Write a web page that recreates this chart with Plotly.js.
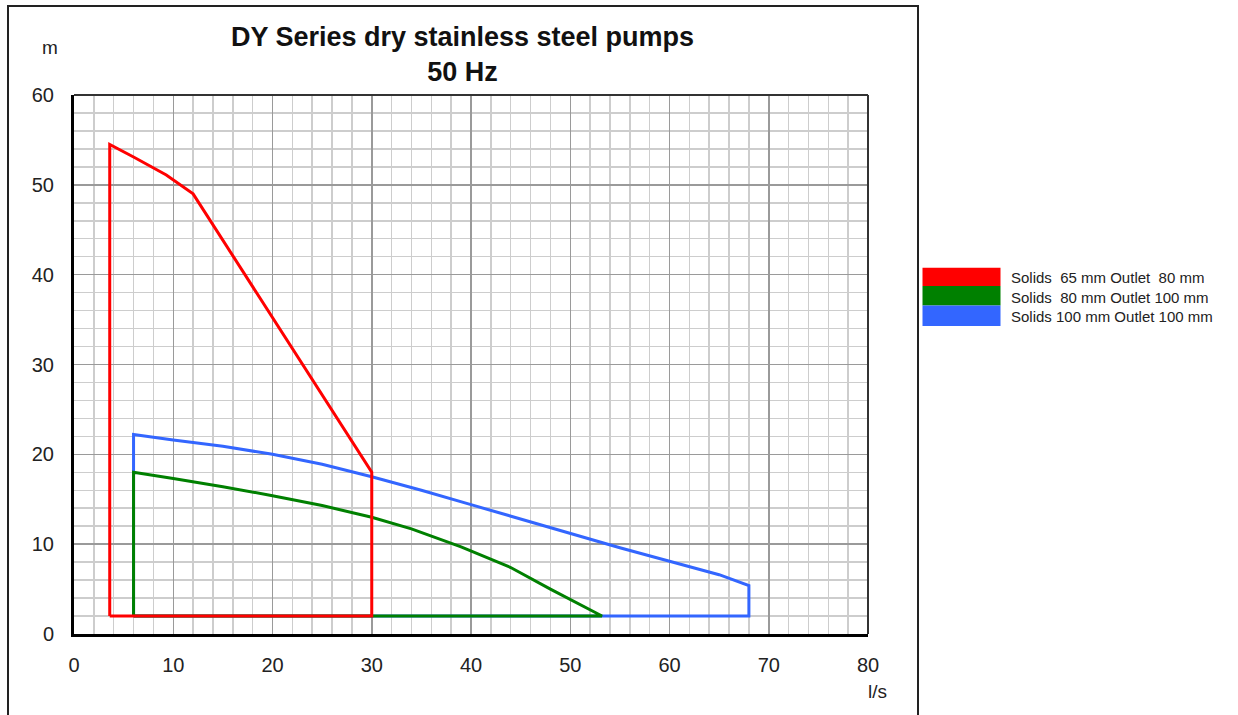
<!DOCTYPE html>
<html>
<head>
<meta charset="utf-8">
<script src="https://cdn.plot.ly/plotly-3.0.1.min.js"></script>
<style>
html,body{margin:0;padding:0;background:#fff;}
#chart{width:1238px;height:715px;}
</style>
</head>
<body>
<div id="chart"></div>
<script>
// ---- data ----
var seriesNames = ["Solids\u00a0\u00a065 mm Outlet\u00a0\u00a080 mm", "Solids\u00a0\u00a080 mm Outlet 100 mm", "Solids 100 mm Outlet 100 mm"];
var seriesColors = ["#ff0000", "#008000", "#3366ff"];

var redFlow = [3.6, 3.6, 6, 9.3, 12, 30, 30, 3.6];
var redHead = [2, 54.5, 53.1, 51.1, 49, 18, 2, 2];

var greenFlow = [6, 6, 10, 15, 20, 25, 30, 34, 39, 44, 48, 53.2, 6];
var greenHead = [2, 18, 17.3, 16.4, 15.4, 14.3, 13, 11.7, 9.7, 7.4, 5.0, 2, 2];

var blueFlow = [6, 6, 10, 15, 20, 25, 30, 35, 40, 45, 50, 55, 60, 65, 68, 68, 6];
var blueHead = [2, 22.2, 21.6, 20.9, 20, 18.9, 17.5, 16, 14.4, 12.8, 11.2, 9.6, 8.1, 6.6, 5.4, 2, 2];

var titleLines = ["DY Series dry stainless steel pumps", "50 Hz"];
var yUnit = "m";
var xUnit = "l/s";

// ---- layout helpers (pixel -> paper) ----
var L = 74, T = 95, W = 794, H = 539;
function px(x){ return (x - L) / W; }
function py(y){ return (T + H - y) / H; }

var FONT = "Liberation Sans, Arial, sans-serif";

var traces = [
  {x: blueFlow, y: blueHead, name: seriesNames[2], mode: "lines", line: {color: seriesColors[2], width: 3}},
  {x: greenFlow, y: greenHead, name: seriesNames[1], mode: "lines", line: {color: seriesColors[1], width: 3}},
  {x: redFlow, y: redHead, name: seriesNames[0], mode: "lines", line: {color: seriesColors[0], width: 3}}
];

var shapes = [
  // outer frame
  {type: "rect", xref: "paper", yref: "paper", x0: px(8), x1: px(918), y0: py(760), y1: py(6),
   line: {color: "#222", width: 2}, layer: "above"},
  // top and right plot borders
  {type: "line", xref: "paper", yref: "paper", x0: 0, x1: 1, y0: 1, y1: 1, line: {color: "#333", width: 2}},
  {type: "line", xref: "paper", yref: "paper", x0: 1, x1: 1, y0: 0, y1: 1, line: {color: "#333", width: 2}}
];
// legend swatches
var swTop = [267.7, 286, 305.5], swBot = [286, 305.5, 326];
for (var i = 0; i < 3; i++) {
  shapes.push({type: "rect", xref: "paper", yref: "paper", x0: px(922.5), x1: px(1000.5), y0: py(swBot[i]), y1: py(swTop[i]),
    fillcolor: seriesColors[i], line: {width: 0}});
}

var annotations = [
  {xref: "paper", yref: "paper", x: px(50), y: py(47), text: yUnit, showarrow: false, xanchor: "center", yanchor: "middle",
   font: {family: FONT, size: 19, color: "#222"}},
  {xref: "paper", yref: "paper", x: px(877), y: py(691), text: xUnit, showarrow: false, xanchor: "center", yanchor: "middle",
   font: {family: FONT, size: 19, color: "#222"}}
];
var legY = [277.5, 297, 316.5];
for (var j = 0; j < 3; j++) {
  annotations.push({xref: "paper", yref: "paper", x: px(1009), y: py(legY[j]), text: seriesNames[j], showarrow: false,
    xanchor: "left", yanchor: "middle", font: {family: FONT, size: 15, color: "#222"}});
}

var layout = {
  width: 1238, height: 715,
  margin: {l: L, r: 1238 - L - W, t: T, b: 715 - T - H, pad: 0},
  paper_bgcolor: "#fff", plot_bgcolor: "#fff",
  showlegend: false,
  title: {text: "<b>" + titleLines[0] + "</b><br><b>" + titleLines[1] + "</b>", xref: "paper", x: px(462.5), xanchor: "center",
          yref: "container", y: 1 - 46/715, yanchor: "top",
          font: {family: FONT, size: 27, color: "#111"}},
  xaxis: {range: [0, 80], dtick: 10, tick0: 0, showgrid: true, gridcolor: "#9a9a9a", gridwidth: 1.5,
          minor: {dtick: 2, showgrid: true, gridcolor: "#cdcdcd", gridwidth: 1.5},
          showline: true, linecolor: "#000", linewidth: 3, ticks: "", ticklabelstandoff: 11,
          zeroline: false, fixedrange: true,
          tickfont: {family: FONT, size: 20, color: "#222"}},
  yaxis: {range: [0, 60], dtick: 10, tick0: 0, showgrid: true, gridcolor: "#9a9a9a", gridwidth: 1.5,
          minor: {dtick: 2, showgrid: true, gridcolor: "#cdcdcd", gridwidth: 1.5},
          showline: true, linecolor: "#000", linewidth: 3, ticks: "", ticklabelstandoff: 13,
          zeroline: false, fixedrange: true,
          tickfont: {family: FONT, size: 20, color: "#222"}},
  shapes: shapes,
  annotations: annotations
};

Plotly.newPlot("chart", traces, layout, {displayModeBar: false, staticPlot: true});
</script>
</body>
</html>
